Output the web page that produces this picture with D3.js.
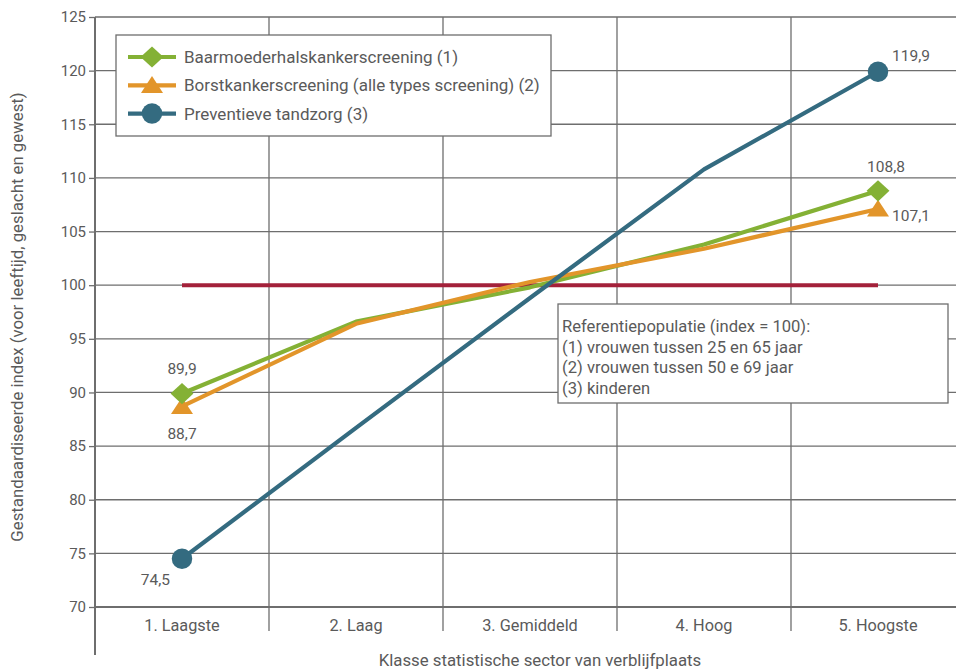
<!DOCTYPE html>
<html>
<head>
<meta charset="utf-8">
<script src="https://cdn.jsdelivr.net/npm/d3@7/dist/d3.min.js"></script>
<style>
  html, body { margin: 0; padding: 0; background: #fff; }
  svg { display: block; }
  text { font-family: "Roboto", "Liberation Sans", sans-serif; fill: #5a5a5a; }
</style>
</head>
<body>
<script>
// Categories: class of the statistical sector of residence
const categories = ["1. Laagste", "2. Laag", "3. Gemiddeld", "4. Hoog", "5. Hoogste"];

// Standardised index per class
const baarmoederValues = [89.9, 96.6, 99.8, 103.8, 108.8];
const borstValues = [88.7, 96.4, 100.3, 103.4, 107.1];
const tandzorgValues = [74.5, 86.7, 98.8, 110.8, 119.9];
const referenceValue = 100;

const yTicks = [70, 75, 80, 85, 90, 95, 100, 105, 110, 115, 120, 125];

const seriesNames = [
  "Baarmoederhalskankerscreening (1)",
  "Borstkankerscreening (alle types screening) (2)",
  "Preventieve tandzorg (3)"
];

const noteLines = [
  "Referentiepopulatie (index = 100):",
  "(1) vrouwen tussen 25 en 65 jaar",
  "(2) vrouwen tussen 50 e 69 jaar",
  "(3) kinderen"
];

const W = 956, H = 671;
const plotLeft = 95, plotRight = 965, plotTop = 17, plotBottom = 607;

const svg = d3.select("body").append("svg").attr("width", W).attr("height", H);

const x = d3.scaleBand().domain(categories).range([plotLeft, plotRight]).padding(0);
const y = d3.scaleLinear().domain([70, 125]).range([plotBottom, plotTop]);
const cx = d => x(d) + x.bandwidth() / 2;

const gridColor = "#6e6e6e";

// Horizontal gridlines
svg.append("g").selectAll("line").data(yTicks).join("line")
  .attr("x1", plotLeft).attr("x2", W)
  .attr("y1", d => y(d)).attr("y2", d => y(d))
  .attr("stroke", gridColor).attr("stroke-width", d => d === 70 ? 2 : 1.3);

// Vertical category separators
svg.append("g").selectAll("line").data(categories.slice(1)).join("line")
  .attr("x1", d => x(d)).attr("x2", d => x(d))
  .attr("y1", plotTop).attr("y2", plotBottom + 24)
  .attr("stroke", gridColor).attr("stroke-width", 1.3);

// Left axis
const yAxis = d3.axisLeft(y).tickValues(yTicks).tickSize(6).tickPadding(3);
const gy = svg.append("g").attr("transform", `translate(${plotLeft},0)`).call(yAxis);
gy.select(".domain").remove();
gy.selectAll(".tick line").attr("stroke", gridColor).attr("stroke-width", 1.3);
gy.selectAll(".tick text").attr("font-size", 15).style("fill", "#5a5a5a")
  .style("font-family", "Roboto, sans-serif");
svg.append("line").attr("x1", plotLeft).attr("x2", plotLeft).attr("y1", plotTop).attr("y2", 655)
  .attr("stroke", gridColor).attr("stroke-width", 2);

// Category labels
const xAxis = d3.axisBottom(x).tickSize(0).tickPadding(12);
const gx = svg.append("g").attr("transform", `translate(0,${plotBottom})`).call(xAxis);
gx.select(".domain").remove();
gx.selectAll(".tick text").attr("font-size", 16.3).style("fill", "#5a5a5a")
  .style("font-family", "Roboto, sans-serif");

// Axis titles
svg.append("text").attr("x", 540).attr("y", 666)
  .attr("text-anchor", "middle").attr("font-size", 16.8)
  .text("Klasse statistische sector van verblijfplaats");
svg.append("text")
  .attr("transform", `translate(23,${(plotTop + plotBottom) / 2 + 5}) rotate(-90)`)
  .attr("text-anchor", "middle").attr("font-size", 16.8)
  .text("Gestandaardiseerde index (voor leeftijd, geslacht en gewest)");

// Reference line at index 100
svg.append("line")
  .attr("x1", cx(categories[0])).attr("x2", cx(categories[4]))
  .attr("y1", y(referenceValue)).attr("y2", y(referenceValue))
  .attr("stroke", "#a3213a").attr("stroke-width", 4);

const series = [
  { name: seriesNames[0], values: baarmoederValues, color: "#84b135", kind: "diamond" },
  { name: seriesNames[1], values: borstValues, color: "#e2952a", kind: "triangle" },
  { name: seriesNames[2], values: tandzorgValues, color: "#346b80", kind: "circle" }
];

// Marker path and placement for each kind
function marker(sel, kind, px, py, color) {
  if (kind === "diamond") {
    sel.append("path").attr("d", d3.symbol().type(d3.symbolSquare).size(225))
      .attr("transform", `translate(${px},${py}) scale(1.08,1) rotate(45)`)
      .attr("fill", color);
  } else if (kind === "triangle") {
    sel.append("path").attr("d", d3.symbol().type(d3.symbolTriangle).size(210))
      .attr("transform", `translate(${px},${py + 2}) scale(1,0.88)`)
      .attr("fill", color);
  } else {
    sel.append("path").attr("d", d3.symbol().type(d3.symbolCircle).size(330))
      .attr("transform", `translate(${px},${py})`)
      .attr("fill", color);
  }
}

const line = d3.line().x((d, i) => cx(categories[i])).y(d => y(d));

// Lines
series.forEach(s => {
  svg.append("path").datum(s.values).attr("d", line)
    .attr("fill", "none").attr("stroke", s.color).attr("stroke-width", 4.2)
    .attr("stroke-linejoin", "round");
});

// End-point markers
const ends = [0, 4];
[series[2], series[1], series[0]].forEach(s => {
  ends.forEach(i => marker(svg, s.kind, cx(categories[i]), y(s.values[i]), s.color));
});

// Value labels
const fmt = v => d3.format(".1f")(v).replace(".", ",");
const labels = [
  { v: baarmoederValues[0], i: 0, dx: 0, dy: -20, anchor: "middle" },
  { v: borstValues[0], i: 0, dx: 0, dy: 33, anchor: "middle" },
  { v: tandzorgValues[0], i: 0, dx: -12, dy: 26, anchor: "end" },
  { v: tandzorgValues[4], i: 4, dx: 14, dy: -11, anchor: "start" },
  { v: baarmoederValues[4], i: 4, dx: 8, dy: -19, anchor: "middle" },
  { v: borstValues[4], i: 4, dx: 14, dy: 12, anchor: "start" }
];
svg.append("g").selectAll("text").data(labels).join("text")
  .attr("x", d => cx(categories[d.i]) + d.dx)
  .attr("y", d => y(d.v) + d.dy)
  .attr("text-anchor", d => d.anchor).attr("font-size", 15.5)
  .text(d => fmt(d.v));

// Legend
const lg = svg.append("g").attr("transform", "translate(116,35)");
lg.append("rect").attr("width", 435).attr("height", 101)
  .attr("fill", "#fff").attr("stroke", gridColor).attr("stroke-width", 1.3);
series.forEach((s, k) => {
  const ry = 22 + k * 28.3;
  lg.append("line").attr("x1", 12).attr("x2", 60).attr("y1", ry).attr("y2", ry)
    .attr("stroke", s.color).attr("stroke-width", 4.2);
  marker(lg, s.kind, 36, ry, s.color);
  lg.append("text").attr("x", 68).attr("y", ry + 6).attr("font-size", 17).text(s.name);
});

// Reference population note
const ng = svg.append("g").attr("transform", "translate(558,304)");
ng.append("rect").attr("width", 390).attr("height", 99)
  .attr("fill", "#fff").attr("stroke", gridColor).attr("stroke-width", 1.3);
ng.selectAll("text").data(noteLines).join("text")
  .attr("x", 4).attr("y", (d, i) => 28 + i * 20.5)
  .attr("font-size", 16.6).text(d => d);
</script>
</body>
</html>
